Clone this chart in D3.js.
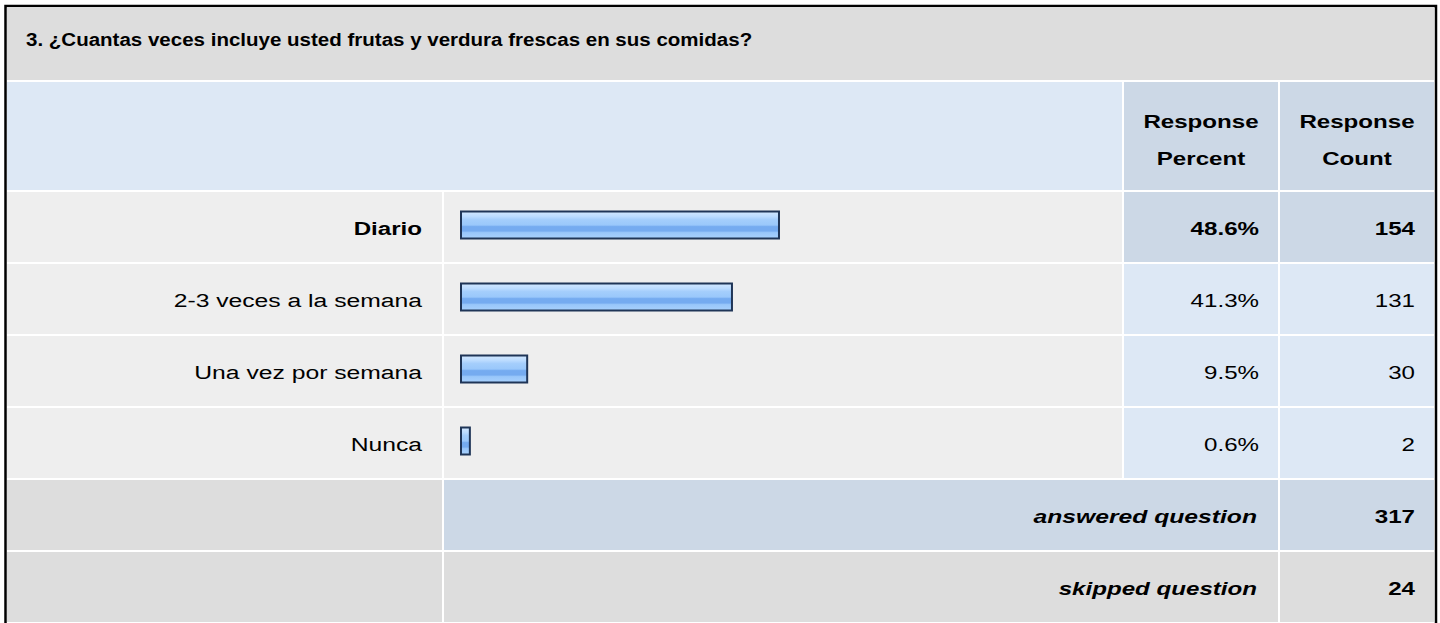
<!DOCTYPE html>
<html>
<head>
<meta charset="utf-8">
<script src="https://cdn.jsdelivr.net/npm/d3@7"></script>
<style>
  body { margin: 0; background: #fff; }
  text { font-family: "Liberation Sans", Arial, sans-serif; fill: #000; }
</style>
</head>
<body>
<div id="container"></div>
<script>
const width = 1440;
const height = 623;

// data
const title = "3. ¿Cuantas veces incluye usted frutas y verdura frescas en sus comidas?";
const categories = ["Diario", "2-3 veces a la semana", "Una vez por semana", "Nunca"];
const percents = [48.6, 41.3, 9.5, 0.6];
const counts = [154, 131, 30, 2];
const headerLabels = [["Response", "Percent"], ["Response", "Count"]];
const summaryLabels = ["answered question", "skipped question"];
const summaryValues = [317, 24];

const stretch = 1.27; // glyphs in the picture are wider than tall
const fontSize = 19;
const colors = {
  gray: "#dddddd",
  row: "#eeeeee",
  light: "#dde8f5",
  dark: "#ccd8e6",
  barStroke: "#1f3557"
};

// columns: label | bar | percent | count
const cols = {
  label: [7, 442],
  bar: [444, 1122],
  pct: [1124, 1278],
  cnt: [1280, 1434]
};

const svg = d3.select("#container")
              .append("svg")
              .attr("width", width)
              .attr("height", height);

const defs = svg.append("defs");
const grad = defs.append("linearGradient")
                 .attr("id", "barGrad")
                 .attr("x1", 0).attr("y1", 0)
                 .attr("x2", 0).attr("y2", 1);
[[0, "#d2e8ff"], [0.18, "#bcdcff"], [0.3, "#a4cefc"], [0.5, "#9ac8fb"],
 [0.56, "#75abf0"], [0.72, "#75abf0"], [0.78, "#98c6fa"], [1, "#a8d1fd"]]
  .forEach(s => grad.append("stop").attr("offset", s[0]).attr("stop-color", s[1]));

// outer frame
svg.append("rect")
   .attr("x", 5.5).attr("y", 6)
   .attr("width", 1430.5).attr("height", 640)
   .attr("fill", "#fff")
   .attr("stroke", "#000")
   .attr("stroke-width", 2.5);

const cell = (x0, x1, y0, y1, fill) => {
  svg.append("rect")
     .attr("x", x0).attr("y", y0)
     .attr("width", x1 - x0).attr("height", y1 - y0)
     .attr("fill", fill);
};

const label = (str, x, y, anchor, opts = {}) => {
  const sx = opts.sx || stretch;
  svg.append("text")
     .attr("transform", "translate(" + x + "," + y + ") scale(" + sx + ",1)")
     .attr("text-anchor", anchor)
     .style("font-size", (opts.size || fontSize) + "px")
     .style("font-weight", opts.bold ? "bold" : "normal")
     .style("font-style", opts.italic ? "italic" : "normal")
     .text(str);
};

// title row
cell(7, 1434, 7, 80, colors.gray);
label(title, 26, 46, "start", {bold: true, size: 19, sx: 1.08});

// header row
cell(7, 1122, 82, 190, colors.light);
cell(cols.pct[0], cols.pct[1], 82, 190, colors.dark);
cell(cols.cnt[0], cols.cnt[1], 82, 190, colors.dark);
headerLabels.forEach((lines, i) => {
  const c = i === 0 ? cols.pct : cols.cnt;
  lines.forEach((l, j) => label(l, (c[0] + c[1]) / 2, 128 + j * 37, "middle", {bold: true}));
});

// body rows
const rowKeys = categories.concat(summaryLabels);
const y = d3.scaleBand()
            .domain(rowKeys)
            .range([192, 192 + rowKeys.length * 72]);
const rowH = y.bandwidth() - 2;

const x = d3.scaleLinear()
            .domain([0, 100])
            .range([0, 644]);
const barMin = 7;
const fmt = d3.format(".1f");

categories.forEach((cat, i) => {
  const top = y(cat);
  const strong = i === 0;
  cell(cols.label[0], cols.label[1], top, top + rowH, colors.row);
  cell(cols.bar[0], cols.bar[1], top, top + rowH, colors.row);
  cell(cols.pct[0], cols.pct[1], top, top + rowH, strong ? colors.dark : colors.light);
  cell(cols.cnt[0], cols.cnt[1], top, top + rowH, strong ? colors.dark : colors.light);
  label(cat, 422, top + 43, "end", {bold: strong, sx: strong ? stretch : 1.3});
  label(fmt(percents[i]) + "%", 1259, top + 43, "end", {bold: strong});
  label(counts[i], 1415, top + 43, "end", {bold: strong});
});

svg.append("g")
   .selectAll("rect")
   .data(percents)
   .enter()
   .append("rect")
   .attr("x", 461)
   .attr("y", (d, i) => y(categories[i]) + 19.5)
   .attr("width", d => x(d) + barMin - 2)
   .attr("height", 27)
   .attr("fill", "url(#barGrad)")
   .attr("stroke", colors.barStroke)
   .attr("stroke-width", 2);

summaryLabels.forEach((s, i) => {
  const top = y(s);
  const fill = i === 0 ? colors.dark : colors.gray;
  cell(cols.label[0], cols.label[1], top, top + rowH, colors.gray);
  cell(cols.bar[0], cols.pct[1], top, top + rowH, fill);
  cell(cols.cnt[0], cols.cnt[1], top, top + rowH, fill);
  label(s, 1257, top + 43, "end", {bold: true, italic: true, sx: i === 0 ? 1.3 : 1.27});
  label(summaryValues[i], 1415, top + 43, "end", {bold: true});
});
</script>
</body>
</html>
